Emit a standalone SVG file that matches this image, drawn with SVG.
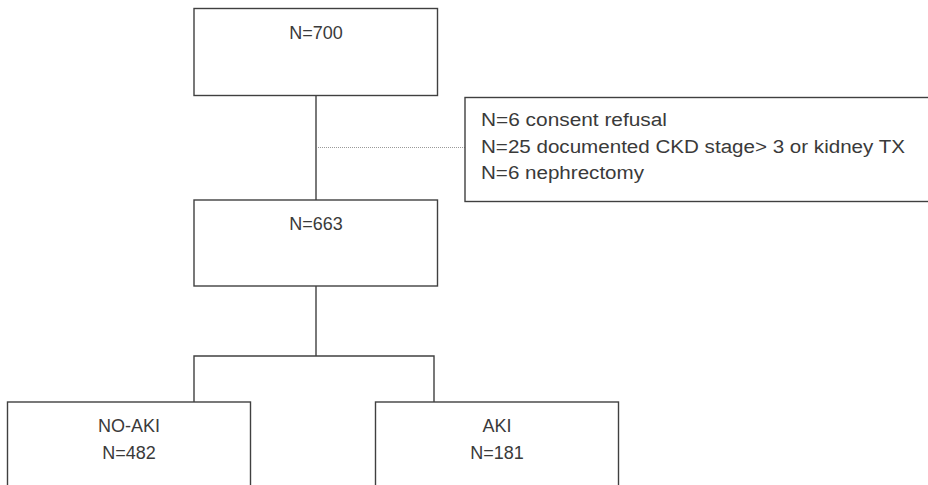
<svg xmlns="http://www.w3.org/2000/svg" width="928" height="485" viewBox="0 0 928 485">
<style>
.box{fill:#ffffff;stroke:#404040;stroke-width:1.4}
.conn{fill:none;stroke:#404040;stroke-width:1.4}
.dot{fill:none;stroke:#9a9a9a;stroke-width:1;stroke-dasharray:1 1}
text{font-family:"Liberation Sans",Arial,sans-serif;font-size:18px;fill:#3a3a3a}
.c{text-anchor:middle}
</style>
<rect width="928" height="485" fill="#ffffff"/>
<g id="connectors">
<line class="conn" x1="316" y1="95.5" x2="316" y2="200"/>
<line class="dot" x1="318" y1="147.5" x2="465" y2="147.5"/>
<polyline class="conn" points="316,286 316,356"/>
<polyline class="conn" points="194,402 194,356 434,356 434,402"/>
</g>
<g id="n700">
<rect class="box" x="194" y="8.5" width="243.5" height="87"/>
<text class="c" x="316" y="39">N=700</text>
</g>
<g id="exclusions">
<rect class="box" x="465" y="97.5" width="470" height="104"/>
<text x="481" y="126" textLength="186" lengthAdjust="spacingAndGlyphs">N=6 consent refusal</text>
<text x="481" y="152.5" textLength="424" lengthAdjust="spacingAndGlyphs">N=25 documented CKD stage&gt; 3 or kidney TX</text>
<text x="481" y="179" textLength="163" lengthAdjust="spacingAndGlyphs">N=6 nephrectomy</text>
</g>
<g id="n663">
<rect class="box" x="194" y="200" width="243.5" height="86"/>
<text class="c" x="316" y="230">N=663</text>
</g>
<g id="noaki">
<rect class="box" x="7.5" y="402" width="243" height="100"/>
<text class="c" x="129" y="432">NO-AKI</text>
<text class="c" x="129" y="459">N=482</text>
</g>
<g id="aki">
<rect class="box" x="375.5" y="402" width="243" height="100"/>
<text class="c" x="497" y="432">AKI</text>
<text class="c" x="497" y="459">N=181</text>
</g>
</svg>
